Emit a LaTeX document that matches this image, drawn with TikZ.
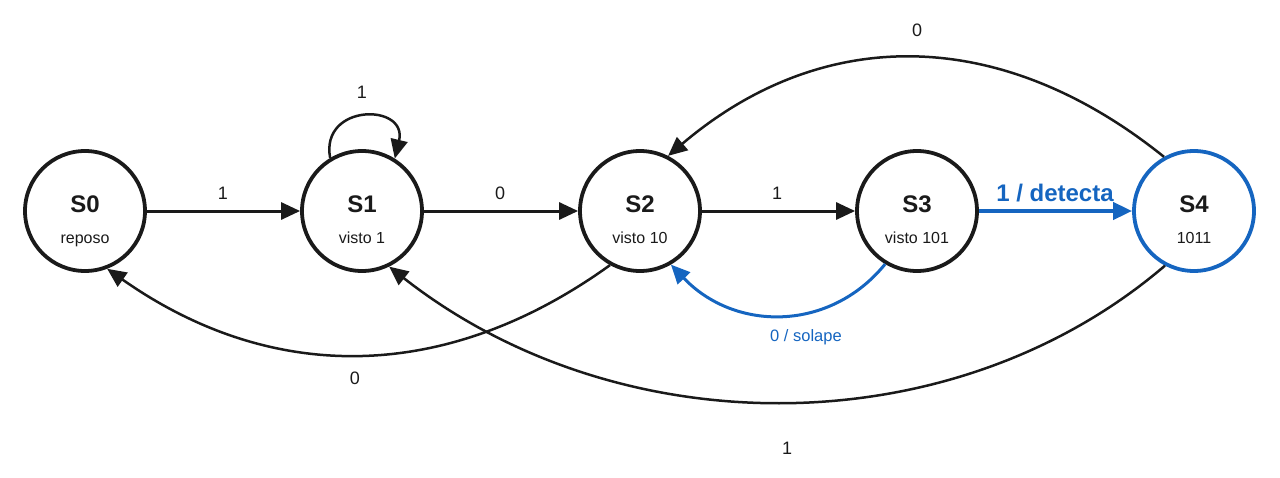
\documentclass[tikz,border=0pt]{standalone}
\usepackage{fontspec}
\setmainfont{Liberation Sans}
\usetikzlibrary{arrows.meta}
\definecolor{ink}{HTML}{1A1A1A}
\definecolor{hiblue}{HTML}{1565C0}
\tikzset{
  state/.style={circle, draw=ink, line width=3.8pt, minimum size=120pt, inner sep=0pt, fill=white},
  histate/.style={state, draw=hiblue},
  stitle/.style={anchor=base, font=\fontsize{24}{24}\selectfont\bfseries, text=ink},
  ssub/.style={anchor=base, font=\fontsize{16}{16}\selectfont, text=ink},
  tip/.style={-{Triangle[length=19pt,width=17pt]}},
  straight/.style={tip, draw=ink, line width=3pt},
  curved/.style={tip, draw=ink, line width=2.5pt},
  bluestraight/.style={tip, draw=hiblue, line width=4pt},
  bluecurved/.style={tip, draw=hiblue, line width=3pt},
  elabel/.style={font=\fontsize{18}{18}\selectfont, text=ink},
  blabel/.style={font=\fontsize{16.5}{16.5}\selectfont, text=hiblue},
  bblabel/.style={font=\fontsize{24}{24}\selectfont\bfseries, text=hiblue}
}
\begin{document}
\begin{tikzpicture}[x=1pt, y=-1pt]
\useasboundingbox (0,0) rectangle (1280,477);
% states
\node[state] (s0) at (85,211) {};
\node[state] (s1) at (362,211) {};
\node[state] (s2) at (640,211) {};
\node[state] (s3) at (917,211) {};
\node[histate] (s4) at (1194,211) {};
% state texts
\node[stitle] (s0t) at (85,212) {S0};
\node[ssub] (s0s) at (85,243) {reposo};
\node[stitle] (s1t) at (362,212) {S1};
\node[ssub] (s1s) at (362,243) {visto 1};
\node[stitle] (s2t) at (640,212) {S2};
\node[ssub] (s2s) at (640,243) {visto 10};
\node[stitle] (s3t) at (917,212) {S3};
\node[ssub] (s3s) at (917,243) {visto 101};
\node[stitle] (s4t) at (1194,212) {S4};
\node[ssub] (s4s) at (1194,243) {1011};
% straight transitions
\draw[straight] (s0.east) -- (s1.west);
\draw[straight] (s1.east) -- (s2.west);
\draw[straight] (s2.east) -- (s3.west);
\draw[bluestraight] (s3.east) -- (s4.west);
% self loop on S1
\draw[curved] (s1.121) .. controls (320,103) and (408,103) .. (s1.58);
% S4 -> S2 over the top
\draw[curved] (s4.119) .. controls (1000,25) and (822,25) .. (s2.63);
% S2 -> S0 below
\draw[curved] (s2.241) .. controls (445,384) and (271,384) .. (s0.291);
% S4 -> S1 below
\draw[curved] (s4.242) .. controls (953,447) and (619,447) .. (s1.296);
% S3 -> S2 blue
\draw[bluecurved] (s3.239) .. controls (830,332) and (735,332) .. (s2.300);
% labels
\node[elabel] (l01) at (223,193) {1};
\node[elabel] (l12) at (500,193) {0};
\node[elabel] (l23) at (777,193) {1};
\node[bblabel] (l34) at (1055,193) {1 / detecta};
\node[elabel] (l11) at (362,92) {1};
\node[elabel] (l42) at (917,30) {0};
\node[elabel] (l20) at (355,378) {0};
\node[elabel] (l41) at (787,448) {1};
\node[blabel] (l32) at (806,337) {0 / solape};
\end{tikzpicture}
\end{document}
